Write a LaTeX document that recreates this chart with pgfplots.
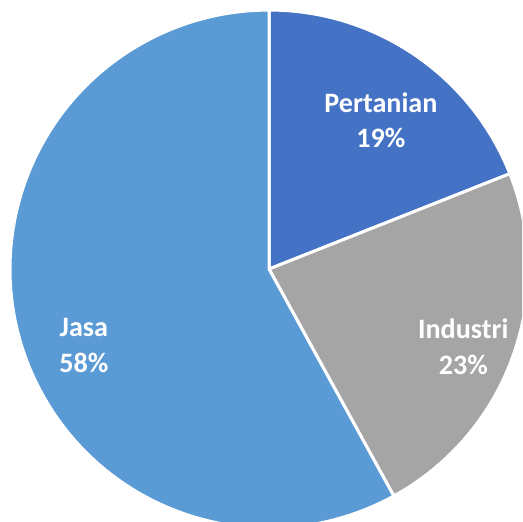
\documentclass[border=0pt]{standalone}
\usepackage{pgfplots}
\pgfplotsset{compat=1.18}
\usepackage{pgfplotstable}
\usepackage{fontspec}
\setmainfont{Carlito}
\definecolor{cPer}{HTML}{4472C4}
\definecolor{cInd}{HTML}{A5A5A5}
\definecolor{cJas}{HTML}{5B9BD5}
\tikzset{pielabel/.style={text=white, font=\fontsize{14}{17.5}\selectfont\bfseries, align=center},
  wedge/.style={draw=white, line width=1.5pt, line join=round}}
% sector, share (%), colour, label x, label y (in radius units)
\pgfplotstableread{
label     value col  lx     ly
Pertanian 19    cPer 0.432  0.575
Industri  23    cInd 0.750  -0.300
Jasa      58    cJas -0.715 -0.295
}\piedata
\begin{document}
\begin{tikzpicture}
\begin{axis}[
  x=129pt, y=129pt,
  xmin=-1.0388, xmax=0.9767, ymin=-0.9767, ymax=1.0388,
  hide axis, clip=true,
]
\pgfplotstablegetrowsof{\piedata}
\pgfmathtruncatemacro{\nrows}{\pgfplotsretval-1}
\gdef\startang{90}
\foreach \i in {0,...,\nrows}{
  \pgfplotstablegetelem{\i}{value}\of{\piedata}\let\val\pgfplotsretval
  \pgfplotstablegetelem{\i}{col}\of{\piedata}\let\col\pgfplotsretval
  \pgfmathsetmacro{\endang}{\startang-3.6*\val}
  \edef\cmd{\noexpand\fill[\col, wedge]
    (axis cs:0,0) -- (axis cs:{cos(\startang)},{sin(\startang)})
    arc[start angle=\startang, end angle=\endang, radius=129pt] -- cycle;}
  \cmd
  \xdef\startang{\endang}
}
\foreach \i in {0,...,\nrows}{
  \pgfplotstablegetelem{\i}{label}\of{\piedata}\let\lab\pgfplotsretval
  \pgfplotstablegetelem{\i}{value}\of{\piedata}\let\val\pgfplotsretval
  \pgfplotstablegetelem{\i}{lx}\of{\piedata}\let\lx\pgfplotsretval
  \pgfplotstablegetelem{\i}{ly}\of{\piedata}\let\ly\pgfplotsretval
  \edef\cmd{\noexpand\node[pielabel] at (axis cs:\lx,\ly) {\lab\noexpand\\\val\noexpand\%};}
  \cmd
}
\end{axis}
\pgfresetboundingbox
\path (current axis.south west) rectangle (current axis.north east);
\end{tikzpicture}
\end{document}
